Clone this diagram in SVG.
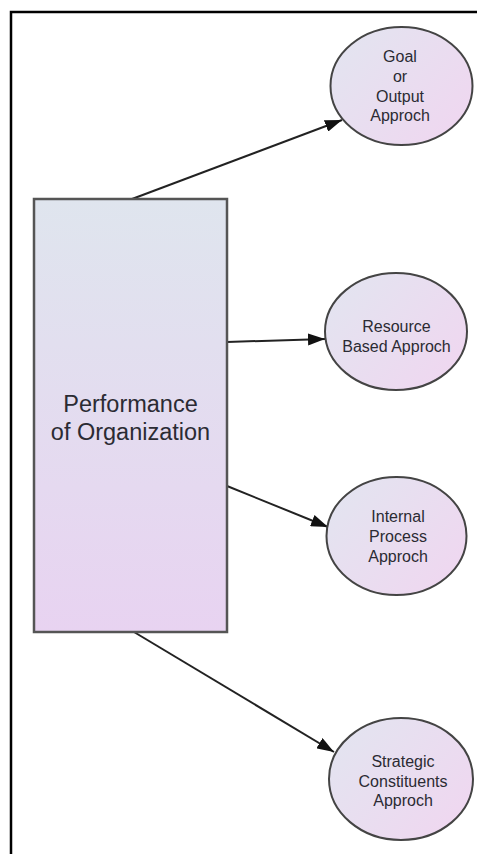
<svg xmlns="http://www.w3.org/2000/svg" width="477" height="854" viewBox="0 0 477 854">
  <defs>
    <linearGradient id="boxFill" x1="0" y1="0" x2="0" y2="1">
      <stop offset="0" stop-color="#dfe5ee"/>
      <stop offset="1" stop-color="#e8d3f1"/>
    </linearGradient>
    <linearGradient id="ovalFill" x1="0" y1="0.2" x2="1" y2="0.9">
      <stop offset="0" stop-color="#e3e4f0"/>
      <stop offset="1" stop-color="#f0d6f0"/>
    </linearGradient>
    <marker id="arrow" markerUnits="userSpaceOnUse" markerWidth="18" markerHeight="12" refX="17" refY="6" orient="auto">
      <path d="M0,0 L17,6 L0,12 Z" fill="#111"/>
    </marker>
    <style>
      .frame { fill: none; stroke: #000; stroke-width: 2.5; }
      .box { fill: url(#boxFill); stroke: #555; stroke-width: 2.5; }
      .oval { fill: url(#ovalFill); stroke: #444; stroke-width: 2; }
      .link { fill: none; stroke: #222; stroke-width: 2; marker-end: url(#arrow); }
      .big { font-family: "Liberation Sans", Arial, sans-serif; font-size: 23.5px; fill: #2b2b33; text-anchor: middle; }
      .small { font-family: "Liberation Sans", Arial, sans-serif; font-size: 16px; fill: #2b2b33; text-anchor: middle; }
    </style>
  </defs>

  <rect width="477" height="854" fill="#fff"/>
  <path class="frame" d="M11,854 V12 H477"/>

  <!-- connectors -->
  <g id="connectors">
    <line class="link" x1="132" y1="199" x2="342" y2="120"/>
    <line class="link" x1="227" y1="342" x2="325" y2="339"/>
    <line class="link" x1="227" y1="486" x2="328" y2="527"/>
    <line class="link" x1="134" y1="632" x2="334" y2="752"/>
  </g>

  <g id="performance">
    <rect class="box" x="34" y="199" width="193" height="433"/>
    <text class="big" x="130.5" y="412">Performance</text>
    <text class="big" x="130.5" y="440">of Organization</text>
  </g>

  <g id="goal">
    <ellipse class="oval" cx="401.5" cy="86" rx="71" ry="59"/>
    <text class="small" x="400" y="62">Goal</text>
    <text class="small" x="400" y="82">or</text>
    <text class="small" x="400" y="102">Output</text>
    <text class="small" x="400" y="121">Approch</text>
  </g>

  <g id="resource">
    <ellipse class="oval" cx="396" cy="331.5" rx="71" ry="58.5"/>
    <text class="small" x="396.5" y="332">Resource</text>
    <text class="small" x="396.5" y="352">Based Approch</text>
  </g>

  <g id="internal">
    <ellipse class="oval" cx="396.5" cy="536" rx="70" ry="59"/>
    <text class="small" x="398" y="522">Internal</text>
    <text class="small" x="398" y="542">Process</text>
    <text class="small" x="398" y="562">Approch</text>
  </g>

  <g id="strategic">
    <ellipse class="oval" cx="401" cy="779" rx="72" ry="61"/>
    <text class="small" x="403" y="767">Strategic</text>
    <text class="small" x="403" y="787">Constituents</text>
    <text class="small" x="403" y="806">Approch</text>
  </g>
</svg>
